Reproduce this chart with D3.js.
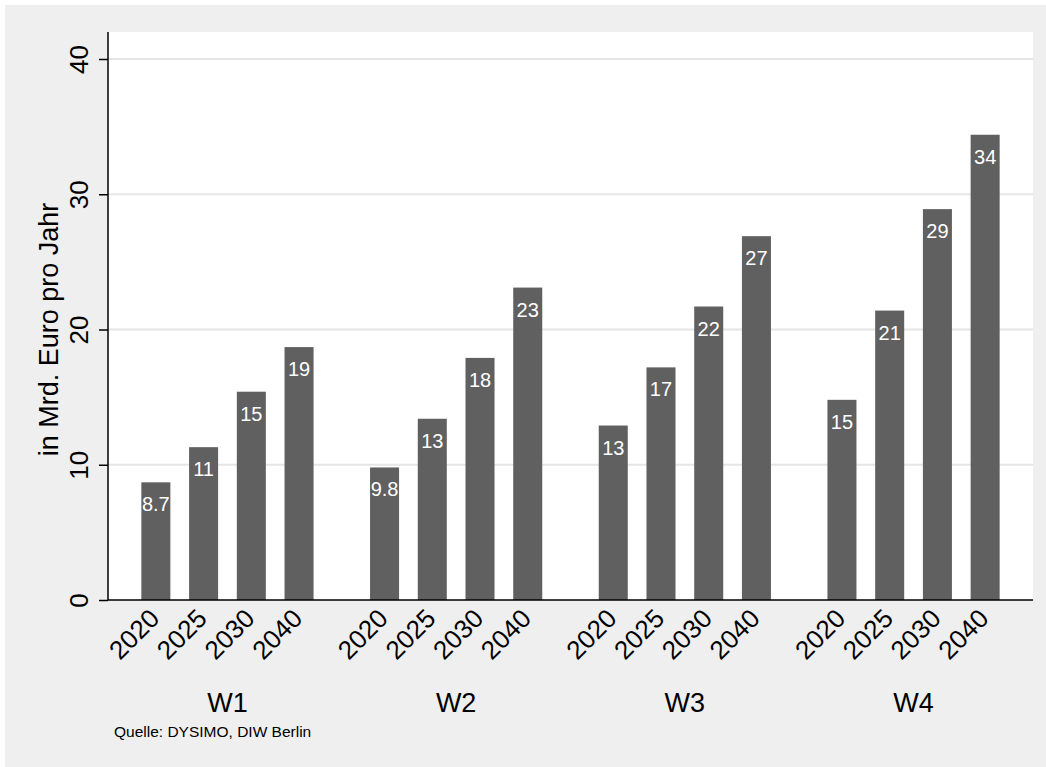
<!DOCTYPE html>
<html>
<head>
<meta charset="utf-8">
<script src="https://cdn.jsdelivr.net/npm/d3@7"></script>
<style>
  html, body { margin: 0; padding: 0; background: #ffffff; }
  svg { display: block; font-family: "Liberation Sans", Arial, sans-serif; }
</style>
</head>
<body>
<svg id="chart" width="1046" height="767"></svg>
<script>
// ---- data ----
const groups = ["W1", "W2", "W3", "W4"];
const years = ["2020", "2025", "2030", "2040"];
const valuesW1 = [8.7, 11.3, 15.4, 18.7];
const valuesW2 = [9.8, 13.4, 17.9, 23.1];
const valuesW3 = [12.9, 17.2, 21.7, 26.9];
const valuesW4 = [14.8, 21.4, 28.9, 34.4];
const yTicks = [0, 10, 20, 30, 40];
const yTitle = "in Mrd. Euro pro Jahr";
const note = "Quelle: DYSIMO, DIW Berlin";

const seriesByGroup = { W1: valuesW1, W2: valuesW2, W3: valuesW3, W4: valuesW4 };
const data = [];
groups.forEach(g => years.forEach((yr, i) => data.push({ group: g, year: yr, value: seriesByGroup[g][i] })));

// ---- layout ----
const svg = d3.select("#chart");
const W = 1046, H = 767;
const plot = { left: 108, right: 1033, top: 32, bottom: 600 };

svg.append("rect").attr("x", 5).attr("y", 5).attr("width", W - 5).attr("height", H - 5).attr("fill", "#efefef");
svg.append("rect").attr("x", plot.left).attr("y", plot.top)
  .attr("width", plot.right - plot.left).attr("height", plot.bottom - plot.top).attr("fill", "#ffffff");

const y = d3.scaleLinear().domain([0, 40]).range([600, 59]);

const x0 = d3.scaleBand().domain(groups).range([plot.left, plot.right])
  .paddingInner(0.247).paddingOuter(0.1458);
const x1 = d3.scaleBand().domain(years).range([0, x0.bandwidth()])
  .paddingInner(0.392).paddingOuter(0);

// gridlines
svg.append("g").selectAll("line").data(yTicks.filter(t => t > 0)).join("line")
  .attr("x1", plot.left).attr("x2", plot.right)
  .attr("y1", d => y(d)).attr("y2", d => y(d))
  .attr("stroke", "#e6e6e6").attr("stroke-width", 2);

// bars
const barG = svg.append("g");
barG.selectAll("rect").data(data).join("rect")
  .attr("x", d => x0(d.group) + x1(d.year))
  .attr("y", d => y(d.value))
  .attr("width", x1.bandwidth())
  .attr("height", d => y(0) - y(d.value))
  .attr("fill", "#606060");

// bar labels
const fmt = v => (v < 10 ? d3.format(".1f")(v) : d3.format(".0f")(v));
barG.selectAll("text").data(data).join("text")
  .attr("x", d => x0(d.group) + x1(d.year) + x1.bandwidth() / 2)
  .attr("y", d => y(d.value) + 29)
  .attr("text-anchor", "middle")
  .attr("fill", "#ffffff")
  .attr("font-size", 20)
  .text(d => fmt(d.value));

// y axis
const yAxis = d3.axisLeft(y).tickValues(yTicks).tickSize(9).tickSizeOuter(0).tickPadding(11);
const yg = svg.append("g").attr("transform", `translate(${plot.left},0)`).call(yAxis);
yg.select(".domain").remove();
yg.selectAll(".tick line").attr("stroke", "#000").attr("stroke-width", 1.5);
yg.selectAll(".tick text")
  .attr("font-size", 26).attr("fill", "#000").attr("font-family", "Liberation Sans, Arial, sans-serif")
  .attr("text-anchor", "middle").attr("dy", null).attr("x", null)
  .attr("transform", "translate(-20,0) rotate(-90)");
svg.append("line").attr("x1", plot.left).attr("x2", plot.left)
  .attr("y1", plot.top).attr("y2", plot.bottom).attr("stroke", "#000").attr("stroke-width", 1.5);

// x axis line
svg.append("line").attr("x1", plot.left).attr("x2", plot.right)
  .attr("y1", plot.bottom).attr("y2", plot.bottom).attr("stroke", "#000").attr("stroke-width", 1.5);

// year tick labels
svg.append("g").selectAll("text").data(data).join("text")
  .attr("transform", d => `translate(${x0(d.group) + x1(d.year) + x1.bandwidth() / 2 + 5},${plot.bottom + 20}) rotate(-45)`)
  .attr("text-anchor", "end")
  .attr("font-size", 26)
  .attr("fill", "#000")
  .text(d => d.year);

// group labels
svg.append("g").selectAll("text").data(groups).join("text")
  .attr("x", d => x0(d) + x0.bandwidth() / 2)
  .attr("y", 712)
  .attr("text-anchor", "middle")
  .attr("font-size", 27)
  .attr("fill", "#000")
  .text(d => d);

// y title
svg.append("text")
  .attr("transform", `translate(58,${(y(0) + y(40)) / 2}) rotate(-90)`)
  .attr("text-anchor", "middle")
  .attr("font-size", 27)
  .attr("fill", "#000")
  .text(yTitle);

// note
svg.append("text").attr("x", 114).attr("y", 737).attr("font-size", 15.5).attr("fill", "#000").text(note);
</script>
</body>
</html>
